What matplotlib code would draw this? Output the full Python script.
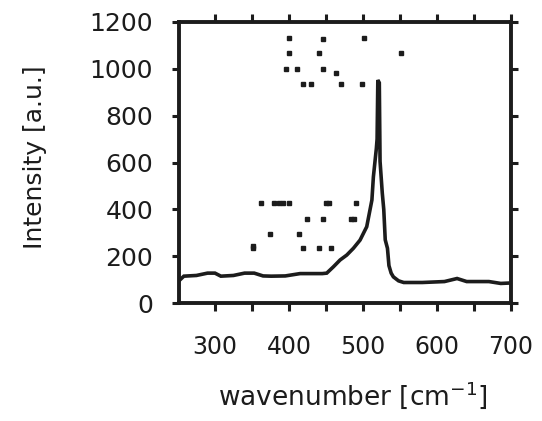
import matplotlib
matplotlib.use("Agg")
import matplotlib.pyplot as plt
from matplotlib.ticker import MultipleLocator

# spectrum
wavenumber = [253, 258, 275, 290, 300, 308, 325, 340, 353, 365, 376, 395, 415, 430,
              445, 451, 460, 469, 478, 487, 496, 505, 512, 514, 518, 519, 520, 522,
              523, 526, 528, 530, 533, 535, 538, 541, 548, 555, 580, 610, 627, 640,
              670, 686, 700]
intensity = [100, 115, 118, 128, 128, 115, 118, 128, 128, 116, 115, 116, 126, 126,
             126, 128, 155, 184, 205, 234, 269, 326, 440, 539, 660, 700, 952, 940,
             605, 470, 400, 270, 234, 160, 128, 112, 95, 88, 88, 92, 105, 92,
             92, 84, 86]

# stray specks visible in the scan
speck_x = [400, 446, 501, 400, 441, 551, 396, 411, 446, 464, 419, 430, 470, 498,
           362, 380, 386, 392, 400, 450, 454, 491, 425, 446, 484, 488, 374, 414,
           351, 351, 419, 441, 457]
speck_y = [1133, 1128, 1133, 1066, 1066, 1066, 999, 999, 999, 983, 934, 934, 934, 934,
           426, 426, 426, 426, 426, 426, 426, 426, 359, 359, 359, 359, 293, 293,
           234, 244, 234, 234, 234]

x_ticks = [300, 400, 500, 600, 700]
y_ticks = [0, 200, 400, 600, 800, 1000, 1200]

ink = '#1c1c1c'

fig = plt.figure(figsize=(5.42, 4.21), dpi=100)
ax = fig.add_axes([0.331, 0.280, 0.612, 0.668])

ax.plot(wavenumber, intensity, color=ink, linewidth=2.6, solid_joinstyle='miter')
ax.plot(speck_x, speck_y, linestyle='none', marker='s', markersize=2.4, color=ink)

ax.set_xlim(252, 700)
ax.set_ylim(0, 1200)
ax.set_xticks(x_ticks)
ax.set_yticks(y_ticks)
ax.xaxis.set_minor_locator(MultipleLocator(50))

for s in ax.spines.values():
    s.set_linewidth(2.8)
    s.set_color(ink)

ax.tick_params(which='both', direction='out', top=True, right=True, color=ink,
               width=2.2, labelcolor=ink)
ax.tick_params(axis='x', which='major', length=6, pad=17, labelsize=17)
ax.tick_params(axis='x', which='minor', length=6)
ax.tick_params(axis='y', which='major', length=5, pad=14, labelsize=18)

ax.set_xlabel('wavenumber [cm$^{-1}$]', fontsize=19, color=ink)
ax.set_ylabel('Intensity [a.u.]', fontsize=18, color=ink)
ax.xaxis.set_label_coords(0.523, -0.27)
ax.yaxis.set_label_coords(-0.40, 0.52)

fig.savefig('out.png', dpi=100)
